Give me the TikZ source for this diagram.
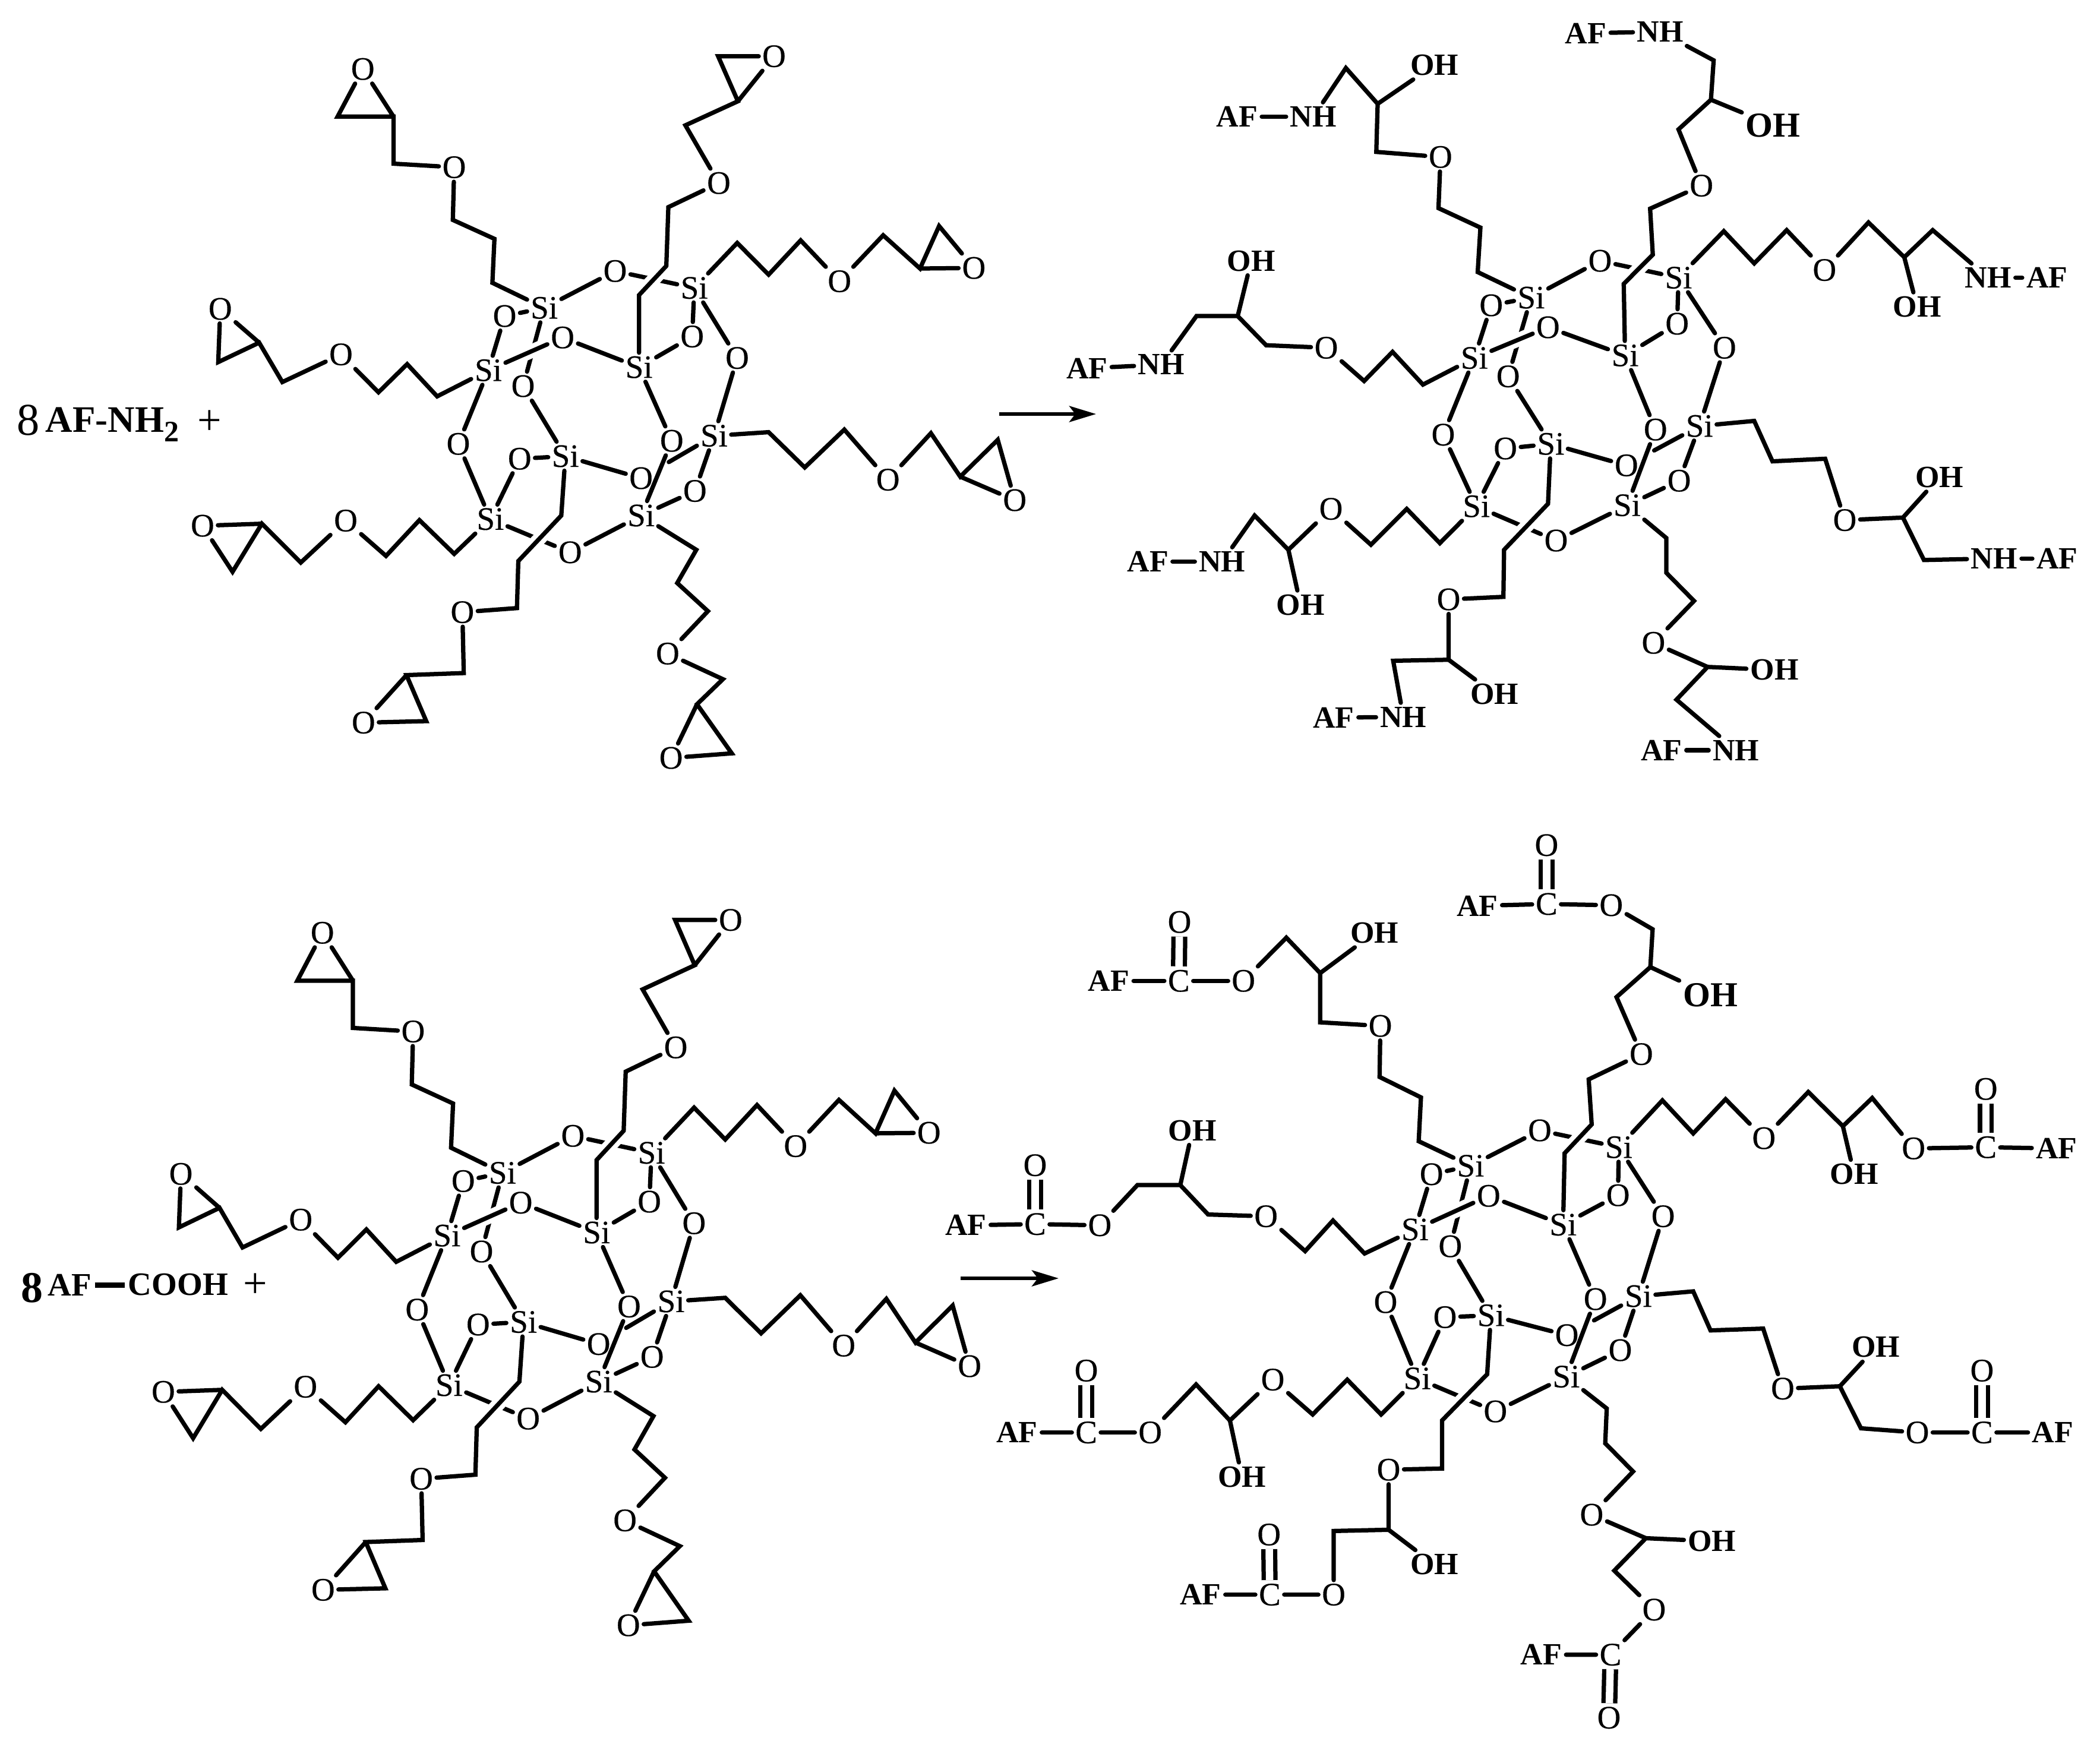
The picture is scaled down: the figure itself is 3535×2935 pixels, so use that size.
\documentclass[tikz,border=0pt]{standalone}
\usepackage{fontspec}
\setmainfont{Liberation Serif}
\newfontfamily\atomf[FakeBold=0.35]{Liberation Serif}
\usetikzlibrary{arrows.meta,calc}
\tikzset{
  atom/.style={font=\atomf\fontsize{11}{11}\selectfont,inner sep=1.2pt,outer sep=0pt},
  batom/.style={font=\fontsize{10.4}{10.4}\selectfont\bfseries,inner sep=1.4pt,outer sep=0pt},
  bbatom/.style={font=\fontsize{11.8}{11.8}\selectfont\bfseries,inner sep=1.4pt,outer sep=0pt},
  lbl/.style={font=\fontsize{12.6}{12.6}\selectfont\bfseries,inner sep=0pt,outer sep=0pt},
  plusl/.style={font=\fontsize{14.4}{14.4}\selectfont,inner sep=0pt,outer sep=0pt},
  bondl/.style={draw,line width=1.45pt,line join=miter,line cap=round},
  halo/.style={preaction={draw,white,line width=4.6pt,line cap=butt}},
  dbl/.style={draw,line width=1.45pt,double,double distance=2.5pt,line cap=butt},
  arrowl/.style={draw,line width=1.2pt,-{Stealth[length=9pt,width=5.4pt,inset=2pt]}}
}
\newcommand\Oxy[1]{\foreach \n/\x/\y in {#1}{\node[atom] (\n) at (\x,\y) {O};}}
\newcommand\Sixy[1]{\foreach \n/\x/\y in {#1}{\node[atom] (\n) at (\x,\y) {Si};}}
\newcommand\Cxy[1]{\foreach \n/\x/\y in {#1}{\coordinate (\n) at (\x,\y);}}
\newcommand\OHxy[1]{\foreach \n/\x/\y in {#1}{\node[batom] (\n) at (\x,\y) {OH};}}
\newcommand\NHxy[1]{\foreach \n/\x/\y in {#1}{\node[batom] (\n) at (\x,\y) {NH};}}
\newcommand\AFxy[1]{\foreach \n/\x/\y in {#1}{\node[batom] (\n) at (\x,\y) {AF};}}
\newcommand\CCxy[1]{\foreach \n/\x/\y in {#1}{\node[atom] (\n) at (\x,\y) {C};}}
\newcommand\corebonds{%
  \draw[bondl] (s1)--(o12)--(s2);
  \draw[bondl] (s1)--(o14)--(s4);
  \draw[bondl] (s1)--(o16)--(s6);
  \draw[bondl,halo] (s2)--(o23)--(s3);
  \draw[bondl] (s3)--(o34)--(s4);
  \draw[bondl] (s4)--(o45)--(s5);
  \draw[bondl] (s3)--(oa)--(s8);
  \draw[bondl] (s6)--(ob);
  \draw[bondl] (s5)--($(s5)!0.62!(ob)$);
  \draw[bondl] (s5)--(o58)--(s8);
  \draw[bondl] (s6)--(o67)--(s7);
  \draw[bondl] (s2)--(o27)--(s7);
  \draw[bondl] (s7)--(o78)--(s8);
}
\newcommand\epoxymol{%
  \Sixy{s1/798/602,s2/716/724,s3/937/718,s4/1018/563,s5/1047/852,s6/829/892,s7/719/1015,s8/940/1008}
  \Oxy{o12/740/618,o14/902/530,o23/825/660,o16/767/755,o34/1015/658,o45/1081/700,oa/985/862,ob/940/935,o58/1019/960,o67/762/897,o27/672/868,o78/836/1080}
  \corebonds
  \Oxy{p1/666/327,q1/532/135,p2/1054/358,q2/1135/110,p3/1231/550,q3/1428/524,p4/500/693,q4/323/604,p5/1302/938,q5/1488/978,p6/507/1018,q6/297/1028,p7/678/1197,q7/533/1413,p8/979/1278,q8/984/1482}
  \Cxy{a1/722/553,b1/725/467,c1/664/430,d1/577/320,e1/577/228,g1/495/228}
  \draw[bondl] (s1)--(a1)--(b1)--(c1)--(p1)--(d1)--(e1)--(g1)--(q1)--(e1);
  \Cxy{a2/937/577,b2/977/520,c2/980/405,d2/1005/245,e2/1082/198,g2/1053/110}
  \draw[bondl,halo] (s3)--(a2)--(b2)--(c2)--(p2)--(d2)--(e2)--(g2)--(q2)--(e2);
  \Cxy{a3/1081/475,b3/1127/537,c3/1174/470,d3/1295/460,e3/1349/525,g3/1377/442}
  \draw[bondl] (s4)--(a3)--(b3)--(c3)--(p3)--(d3)--(e3)--(g3)--(q3)--(e3);
  \Cxy{a4/641/775,b4/597/712,c4/555/767,d4/414/747,e4/380/670,g4/320/708}
  \draw[bondl] (s2)--(a4)--(b4)--(c4)--(p4)--(d4)--(e4)--(g4)--(q4)--(e4);
  \Cxy{a5/1127/845,b5/1180/914,c5/1238/840,d5/1365/847,e5/1408/932,g5/1463/860}
  \draw[bondl] (s5)--(a5)--(b5)--(c5)--(p5)--(d5)--(e5)--(g5)--(q5)--(e5);
  \Cxy{a6/666/1083,b6/615/1017,c6/566/1087,d6/441/1100,e6/384/1024,g6/341/1118}
  \draw[bondl] (s7)--(a6)--(b6)--(c6)--(p6)--(d6)--(e6)--(g6)--(q6)--(e6);
  \Cxy{a7/823/1008,b7/760/1097,c7/758/1189,d7/680/1316,e7/596/1320,g7/625/1410}
  \draw[bondl,halo] (s6)--(a7)--(b7)--(c7)--(p7)--(d7)--(e7)--(g7)--(q7)--(e7);
  \Cxy{a8/1021/1075,b8/993/1140,c8/1038/1195,d8/1060/1328,e8/1022/1377,g8/1073/1473}
  \draw[bondl] (s8)--(a8)--(b8)--(c8)--(p8)--(d8)--(e8)--(g8)--(q8)--(e8);
}
\begin{document}
\begin{tikzpicture}[x=0.2pt,y=-0.2pt]
\path[use as bounding box] (0,0) rectangle (3535,2935);
% reagents
\node[plusl,font=\fontsize{15.3}{15.3}\selectfont] (n8a) at (48,707) {8};
\node[lbl,anchor=base west] (afnh) at (77,727) {AF-NH\raisebox{-3.2pt}{\fontsize{10}{10}\selectfont 2}};
\node[plusl] (pa) at (353,711) {+};
\node[plusl,font=\fontsize{14.8}{14.8}\selectfont\bfseries] (n8b) at (54,2168) {8};
\node[lbl,font=\fontsize{11}{11}\selectfont\bfseries,inner sep=1.2pt] (afb) at (117,2163) {AF};
\node[lbl,font=\fontsize{11}{11}\selectfont\bfseries,inner sep=1.2pt] (cooh) at (300,2163) {COOH};
\draw[bondl,line width=1.8pt,line cap=butt] (afb)--(cooh);
\node[plusl] (pb) at (430,2164) {+};
% arrows
\coordinate (ar1s) at (1682,697); \coordinate (ar1e) at (1845,697);
\draw[arrowl] (ar1s)--(ar1e);
\coordinate (ar2s) at (1617,2152); \coordinate (ar2e) at (1782,2152);
\draw[arrowl] (ar2s)--(ar2e);
% left molecules
\begin{scope}[x=0.2296pt,y=-0.1722pt,name prefix=tl-]
\epoxymol
\end{scope}
\begin{scope}[x=0.2279pt,y=-0.1731pt,shift={(-12.7pt,-290.7pt)},name prefix=bl-]
\epoxymol
\end{scope}
% top right molecule
\begin{scope}[x=0.2276pt,y=-0.1722pt,shift={(350pt,0pt)},name prefix=tr-]
\Sixy{s1/727/582,s2/643/700,s3/866/695,s4/945/543,s5/976/833,s6/756/868,s7/646/990,s8/869/988}
\Oxy{o12/668/597,o14/829/510,o23/752/640,o16/693/736,o34/943/633,o45/1013/680,oa/911/840,ob/868/910,o58/946/940,o67/689/877,o27/597/850,o78/764/1057}
\corebonds
\Oxy{p1/593/307,p2/979/363,p3/1161/528,p4/424/680,p5/1191/1017,p6/431/995,p7/605/1172,p8/908/1257}
\NHxy{n1/405/228,n2/918/62,n3/1403/543,n4/180/713,n5/1412/1092,n6/270/1098,n7/538/1402,n8/1030/1467}
\AFxy{f1/292/228,f2/808/65,f3/1490/543,f4/70/720,f5/1505/1092,f6/160/1098,f7/435/1403,f8/920/1467}
\OHxy{h1/584/127,h3/1298/600,h4/313/510,h5/1331/933,h6/386/1183,h7/673/1357,h8/1087/1310}
\node[bbatom] (h2) at (1085,245) {OH};
\foreach \i in {1,...,8}{\draw[bondl] (f\i)--(n\i);}
\Cxy{a1/648/532,b1/652/445,c1/590/407,d1/498/297,e1/500/203,g1/453/133}
\draw[bondl] (s1)--(a1)--(b1)--(c1)--(p1)--(d1)--(e1)--(g1)--(n1);
\draw[bondl] (e1)--(h1);
\Cxy{a2/864/555,b2/907/498,c2/903/408,d2/945/253,e2/993/195,g2/997/118}
\draw[bondl,halo] (s3)--(a2)--(b2)--(c2)--(p2)--(d2)--(e2)--(g2)--(n2);
\draw[bondl] (e2)--(h2);
\Cxy{a3/1012/452,b3/1057/515,c3/1105/450,d3/1226/435,e3/1279/503,g3/1321/450}
\draw[bondl] (s4)--(a3)--(b3)--(c3)--(p3)--(d3)--(e3)--(g3)--(n3);
\draw[bondl] (e3)--(h3);
\Cxy{a4/567/752,b4/522/688,c4/480/745,d4/335/675,e4/293/618,g4/232/618}
\draw[bondl] (s2)--(a4)--(b4)--(c4)--(p4)--(d4)--(e4)--(g4)--(n4);
\draw[bondl] (e4)--(h4);
\Cxy{a5/1057/823,b5/1084/902,c5/1162/897,e5/1277/1012,g5/1308/1095}
\draw[bondl] (s5)--(a5)--(b5)--(c5)--(p5)--(e5)--(g5)--(n5);
\draw[bondl] (e5)--(h5);
\Cxy{a6/592/1062,b6/543/995,c6/490/1065,e6/368/1075,g6/318/1008}
\draw[bondl] (s7)--(a6)--(b6)--(c6)--(p6)--(e6)--(g6)--(n6);
\draw[bondl] (e6)--(h6);
\Cxy{a7/752/985,b7/687/1075,c7/686/1167,e7/605/1290,g7/523/1292}
\draw[bondl,halo] (s6)--(a7)--(b7)--(c7)--(p7)--(e7)--(g7)--(n7);
\draw[bondl] (e7)--(h7);
\Cxy{a8/927/1052,b8/927/1120,c8/968/1175,e8/988/1304,g8/942/1368}
\draw[bondl] (s8)--(a8)--(b8)--(c8)--(p8)--(e8)--(g8)--(n8);
\draw[bondl] (e8)--(h8);
\end{scope}
% bottom right molecule
\begin{scope}[x=0.2532pt,y=-0.2022pt,shift={(310pt,-270pt)},name prefix=br-]
\Sixy{s1/731/606,s2/657/712,s3/854/704,s4/928/575,s5/954/823,s6/758/855,s7/660/960,s8/858/957}
\Oxy{o12/679/620,o14/823/547,o23/755/656,o16/704/740,o34/927/655,o45/987/690,oa/897/828,ob/859/888,o58/930/913,o67/697/858,o27/618/833,o78/764/1015}
\corebonds
\Oxy{p1/611/373,p2/958/420,p3/1121/560,p4/459/690,p5/1146/977,p6/468/962,p7/622/1112,p8/892/1187}
\Oxy{l1/429/298,l2/918/172,l3/1320/577,l4/238/705,l5/1325/1050,l6/305/1050,l7/549/1320,l8/975/1345}
\Oxy{m1/344/200,m2/832/72,m3/1416/478,m4/152/605,m5/1411/947,m6/220/947,m7/463/1220,m8/915/1525}
\CCxy{k1/343/298,k2/832/170,k3/1416/575,k4/152/703,k5/1411/1050,k6/220/1050,k7/464/1320,k8/917/1420}
\AFxy{f1/250/298,f2/740/173,f3/1510/577,f4/60/705,f5/1505/1050,f6/128/1050,f7/372/1320,f8/825/1420}
\OHxy{h1/603/218,h3/1241/620,h4/361/547,h5/1270/908,h6/427/1124,h7/683/1270,h8/1052/1231}
\node[bbatom] (h2) at (1050,322) {OH};
\foreach \i in {1,...,8}{\draw[bondl] (f\i)--(k\i)--(l\i); \draw[dbl] (k\i)--(m\i);}
\Cxy{a1/662/565,b1/665/492,c1/610/458,d1/531/367,e1/531/285,g1/486/226}
\draw[bondl] (s1)--(a1)--(b1)--(c1)--(p1)--(d1)--(e1)--(g1)--(l1);
\draw[bondl] (e1)--(h1);
\Cxy{a2/856/585,b2/892/537,c2/888/462,d2/925/325,e2/970/275,g2/973/212}
\draw[bondl,halo] (s3)--(a2)--(b2)--(c2)--(p2)--(d2)--(e2)--(g2)--(l2);
\draw[bondl] (e2)--(h2);
\Cxy{a3/986/497,b3/1027/552,c3/1070/495,d3/1180/483,e3/1226/540,g3/1265/493}
\draw[bondl] (s4)--(a3)--(b3)--(c3)--(p3)--(d3)--(e3)--(g3)--(l3);
\draw[bondl] (e3)--(h3);
\Cxy{a4/590/752,b4/548/697,c4/511/748,d4/382/687,e4/345/638,g4/288/638}
\draw[bondl] (s2)--(a4)--(b4)--(c4)--(p4)--(d4)--(e4)--(g4)--(l4);
\draw[bondl] (e4)--(h4);
\Cxy{a5/1027/815,b5/1050/880,c5/1120/877,e5/1222/973,g5/1250/1043}
\draw[bondl] (s5)--(a5)--(b5)--(c5)--(p5)--(e5)--(g5)--(l5);
\draw[bondl] (e5)--(h5);
\Cxy{a6/612/1020,b6/567/962,c6/521/1020,e6/411/1030,g6/366/970}
\draw[bondl] (s7)--(a6)--(b6)--(c6)--(p6)--(e6)--(g6)--(l6);
\draw[bondl] (e6)--(h6);
\Cxy{a7/753/953,b7/693/1030,c7/693/1110,e7/622/1212,g7/549/1214}
\draw[bondl,halo] (s6)--(a7)--(b7)--(c7)--(p7)--(e7)--(g7)--(l7);
\draw[bondl] (e7)--(h7);
\Cxy{a8/912/1010,b8/910/1068,c8/947/1115,e8/964/1226,g8/922/1280}
\draw[bondl] (s8)--(a8)--(b8)--(c8)--(p8)--(e8)--(g8)--(l8);
\draw[bondl] (e8)--(h8);
\end{scope}
\end{tikzpicture}
\end{document}
